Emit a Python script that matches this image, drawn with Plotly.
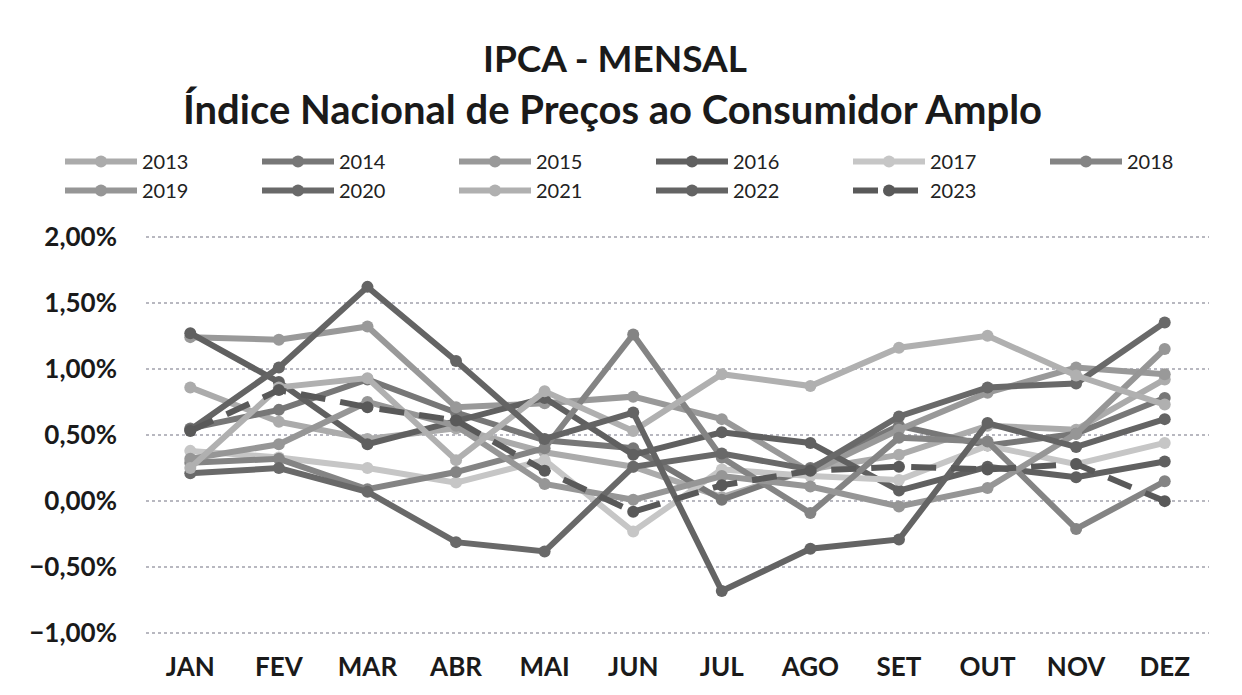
import plotly.graph_objects as go

months = ["JAN", "FEV", "MAR", "ABR", "MAI", "JUN", "JUL", "AGO", "SET", "OUT", "NOV", "DEZ"]

ipca_2013 = [0.86, 0.60, 0.47, 0.55, 0.37, 0.26, 0.03, 0.24, 0.35, 0.57, 0.54, 0.92]
ipca_2014 = [0.55, 0.69, 0.92, 0.67, 0.46, 0.40, 0.01, 0.25, 0.57, 0.42, 0.51, 0.78]
ipca_2015 = [1.24, 1.22, 1.32, 0.71, 0.74, 0.79, 0.62, 0.22, 0.54, 0.82, 1.01, 0.96]
ipca_2016 = [1.27, 0.90, 0.43, 0.61, 0.78, 0.35, 0.52, 0.44, 0.08, 0.26, 0.18, 0.30]
ipca_2017 = [0.38, 0.33, 0.25, 0.14, 0.31, -0.23, 0.24, 0.19, 0.16, 0.42, 0.28, 0.44]
ipca_2018 = [0.29, 0.32, 0.09, 0.22, 0.40, 1.26, 0.33, -0.09, 0.48, 0.45, -0.21, 0.15]
ipca_2019 = [0.32, 0.43, 0.75, 0.57, 0.13, 0.01, 0.19, 0.11, -0.04, 0.10, 0.51, 1.15]
ipca_2020 = [0.21, 0.25, 0.07, -0.31, -0.38, 0.26, 0.36, 0.24, 0.64, 0.86, 0.89, 1.35]
ipca_2021 = [0.25, 0.86, 0.93, 0.31, 0.83, 0.53, 0.96, 0.87, 1.16, 1.25, 0.95, 0.73]
ipca_2022 = [0.54, 1.01, 1.62, 1.06, 0.47, 0.67, -0.68, -0.36, -0.29, 0.59, 0.41, 0.62]
ipca_2023 = [0.53, 0.84, 0.71, 0.61, 0.23, -0.08, 0.12, 0.23, 0.26, 0.24, 0.28, 0.00]

series = [
    ("2013", ipca_2013, "#ababab", "solid"),
    ("2014", ipca_2014, "#777777", "solid"),
    ("2015", ipca_2015, "#999999", "solid"),
    ("2016", ipca_2016, "#606060", "solid"),
    ("2017", ipca_2017, "#c6c6c6", "solid"),
    ("2018", ipca_2018, "#848484", "solid"),
    ("2019", ipca_2019, "#969696", "solid"),
    ("2020", ipca_2020, "#696969", "solid"),
    ("2021", ipca_2021, "#b0b0b0", "solid"),
    ("2022", ipca_2022, "#646464", "solid"),
    ("2023", ipca_2023, "#595959", "25px,15px"),
]

FONT = "Lato, 'Open Sans', sans-serif"

fig = go.Figure()
for name, vals, color, dash in series:
    fig.add_trace(go.Scatter(
        x=months,
        y=[v / 100 for v in vals],
        name=name,
        mode="lines+markers",
        line=dict(color=color, width=6, dash=dash),
        marker=dict(color=color, size=12, symbol="circle"),
    ))

# page has an 8px body margin, so the figure is sized 8px smaller
W, H = 1234, 687
ml, mr, mt, mb = 138, 33, 222, 55
pw, ph = W - ml - mr, H - mt - mb


def px_x(px):
    return (px - ml) / pw


def px_y(py):
    return (H - mb - py) / ph


fig.update_layout(
    width=W, height=H,
    margin=dict(l=ml, r=mr, t=mt, b=mb),
    paper_bgcolor="white",
    plot_bgcolor="white",
    separators=",.",
    font=dict(family=FONT, color="#1a1a1a"),
    showlegend=True,
    legend=dict(
        orientation="h",
        x=px_x(64), xanchor="left",
        y=px_y(134), yanchor="top",
        font=dict(family=FONT, size=20, color="#222222"),
        itemwidth=72,
        entrywidth=110,
        entrywidthmode="pixels",
        traceorder="normal",
        bgcolor="rgba(0,0,0,0)",
        itemclick=False,
    ),
    annotations=[
        dict(text="<b>IPCA - MENSAL</b>", x=px_x(607), y=px_y(49),
             xref="paper", yref="paper", xanchor="center", yanchor="middle",
             showarrow=False, font=dict(family=FONT, size=37, color="#1a1a1a")),
        dict(text="<b>Índice Nacional de Preços ao Consumidor Amplo</b>", x=px_x(604), y=px_y(101),
             xref="paper", yref="paper", xanchor="center", yanchor="middle",
             showarrow=False, font=dict(family=FONT, size=40, color="#1a1a1a")),
    ],
)

fig.update_xaxes(
    type="category",
    range=[-0.5, 11.5],
    showgrid=False,
    showline=False,
    zeroline=False,
    ticks="",
    ticklabelstandoff=9,
    tickfont=dict(family=FONT, size=26, color="#1a1a1a", weight="bold"),
)

fig.update_yaxes(
    range=[-0.0105, 0.0205],
    dtick=0.005,
    tick0=0,
    tickformat=".2%",
    showgrid=True,
    gridcolor="#b8b8c0",
    gridwidth=1.5,
    griddash="dot",
    zeroline=False,
    showline=False,
    ticks="",
    ticklabelstandoff=28,
    tickfont=dict(family=FONT, size=26, color="#1a1a1a", weight="bold"),
)

fig.write_html("out.html")
